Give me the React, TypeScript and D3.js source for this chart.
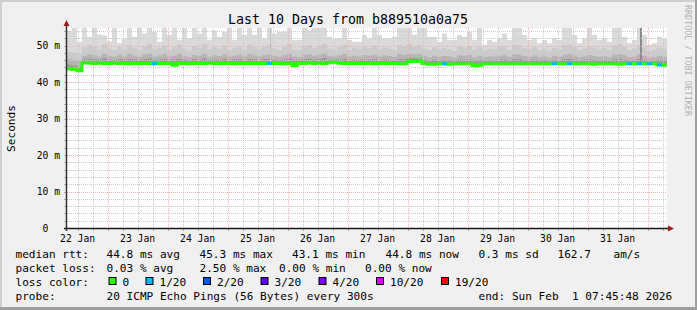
import React from 'react';
import * as d3 from 'd3';

const W = 697;
const H = 310;
const START = Date.UTC(2026, 0, 22, 7, 45, 48);
const END = Date.UTC(2026, 1, 1, 7, 45, 48);
const BUCKET_HOURS = 2;
const Y_MAX = 54.8;

// median RTT per 2h bucket (ms)
const medianRtt = [
  43.6, 43.4, 43.1, 45.2, 45.2, 45.1, 45.2, 45.1, 45.1, 45.2,
  45.1, 45.1, 45.0, 45.1, 45.1, 45.1, 45.1, 45.0, 45.1, 45.1,
  45.1, 44.6, 45.1, 45.1, 45.0, 45.1, 45.1, 45.1, 45.2, 45.1,
  45.1, 45.1, 45.1, 45.0, 45.1, 45.1, 45.1, 45.1, 45.1, 45.1,
  45.1, 45.1, 45.1, 45.0, 45.1, 44.5, 45.1, 45.1, 45.3, 45.1,
  45.2, 45.1, 45.3, 45.4, 45.2, 45.1, 45.1, 45.1, 45.1, 45.1,
  45.1, 45.0, 45.1, 45.1, 45.1, 45.1, 45.0, 45.0, 45.6, 45.7,
  45.6, 45.1, 44.9, 44.9, 45.0, 45.0, 44.9, 45.0, 45.0, 45.0,
  45.0, 44.5, 44.6, 45.0, 45.0, 45.0, 45.0, 45.0, 45.0, 45.0,
  45.0, 45.0, 45.0, 45.0, 45.0, 45.0, 45.0, 45.0, 45.0, 45.0,
  45.0, 45.0, 45.0, 45.0, 45.0, 44.9, 45.0, 45.0, 45.0, 45.0,
  44.9, 45.0, 45.0, 45.0, 45.0, 45.0, 45.0, 45.0, 44.7, 44.6,
];

// highest ping per bucket (outer smoke)
const smokeTop = [
  54.0, 55, 51.0, 55, 52.4, 55, 53.0, 52.8, 51.2, 55,
  50.6, 52.0, 55, 52.4, 55, 53.3, 55, 53.8, 51.0, 55,
  52.9, 55, 51.5, 55, 52.0, 55, 53.3, 55, 51.5, 54.2,
  52.4, 53.8, 55, 51.5, 55, 52.9, 55, 52.9, 55, 52.0,
  55, 53.3, 53.8, 53.8, 55, 51.5, 51.5, 55, 54.2, 55,
  55, 55, 52.4, 52.0, 52.0, 55, 51.5, 51.0, 51.0, 52.9,
  52.0, 55, 52.9, 52.0, 52.0, 52.4, 55, 55, 55, 52.9,
  55, 55, 52.4, 52.4, 51.0, 53.3, 51.5, 51.5, 52.9, 52.4,
  53.8, 51.5, 55, 50.2, 51.5, 51.0, 52.0, 53.3, 51.5, 55,
  55, 52.9, 51.5, 52.0, 50.6, 51.5, 50.6, 52.0, 51.5, 55,
  55, 52.9, 50.6, 52.0, 55, 52.9, 51.5, 52.0, 51.0, 55,
  55, 52.4, 50.6, 51.5, 55, 52.9, 50.2, 50.6, 52.4, 52.0,
];

const smokeMid = [
  48.2, 48.0, 47.8, 49.5, 50.2, 49.8, 49.0, 50.4, 49.2, 48.8,
  49.6, 48.9, 50.3, 49.4, 48.7, 49.9, 50.5, 48.9, 49.3, 50.0,
  48.8, 49.5, 50.2, 49.1, 48.6, 49.8, 49.3, 50.4, 48.9, 49.6,
  49.2, 50.1, 48.7, 49.4, 49.9, 48.8, 50.3, 49.5, 49.0, 49.7,
  50.2, 49.1, 48.8, 49.6, 50.4, 49.0, 48.7, 49.8, 50.1, 49.3,
  49.9, 50.5, 49.2, 48.9, 49.6, 50.3, 48.8, 49.4, 49.0, 49.7,
  49.3, 50.0, 48.9, 49.5, 49.2, 48.7, 50.2, 49.8, 50.4, 49.6,
  50.1, 49.2, 48.8, 49.5, 48.9, 49.3, 49.0, 48.6, 49.7, 49.4,
  49.8, 48.9, 49.5, 48.7, 49.2, 49.0, 49.6, 49.9, 48.8, 50.2,
  50.0, 49.3, 48.9, 49.5, 48.7, 49.1, 48.6, 49.4, 49.0, 50.1,
  50.3, 49.5, 48.8, 49.2, 49.9, 49.4, 48.9, 49.3, 48.8, 50.0,
  50.4, 49.6, 48.7, 49.1, 50.2, 49.5, 48.6, 48.9, 49.4, 49.1,
];

const smokeDark = [
  46.3, 46.0, 45.8, 47.2, 47.6, 47.3, 47.0, 47.8, 47.1, 46.9,
  47.4, 47.0, 47.7, 47.2, 46.9, 47.5, 47.9, 47.0, 47.3, 47.6,
  47.0, 47.2, 47.7, 47.1, 46.8, 47.4, 47.2, 47.8, 46.9, 47.3,
  47.1, 47.6, 46.9, 47.2, 47.5, 47.0, 47.7, 47.3, 47.0, 47.4,
  47.6, 47.1, 46.9, 47.3, 47.8, 47.0, 46.8, 47.5, 47.6, 47.2,
  47.5, 47.9, 47.1, 47.0, 47.3, 47.7, 46.9, 47.2, 47.0, 47.4,
  47.2, 47.5, 47.0, 47.3, 47.1, 46.9, 47.6, 47.4, 47.8, 47.5,
  47.7, 47.1, 46.8, 47.2, 46.9, 47.1, 47.0, 46.7, 47.3, 47.2,
  47.4, 46.8, 47.1, 46.8, 47.0, 46.9, 47.2, 47.4, 46.9, 47.6,
  47.5, 47.1, 46.9, 47.2, 46.8, 47.0, 46.7, 47.1, 46.9, 47.5,
  47.6, 47.2, 46.8, 47.0, 47.4, 47.1, 46.9, 47.1, 46.8, 47.5,
  47.7, 47.3, 46.8, 47.0, 47.6, 47.2, 46.7, 46.8, 47.1, 46.9,
];

const smokeCore = [
  44.8, 44.6, 44.4, 46.2, 46.4, 46.3, 46.1, 46.5, 46.2, 46.0,
  46.3, 46.1, 46.4, 46.2, 46.0, 46.3, 46.5, 46.1, 46.2, 46.4,
  46.1, 46.2, 46.4, 46.1, 45.9, 46.3, 46.2, 46.5, 46.0, 46.2,
  46.1, 46.4, 46.0, 46.2, 46.3, 46.0, 46.4, 46.2, 46.0, 46.3,
  46.4, 46.1, 46.0, 46.2, 46.5, 46.0, 45.9, 46.3, 46.4, 46.2,
  46.3, 46.6, 46.1, 46.2, 46.2, 46.4, 46.0, 46.1, 46.0, 46.2,
  46.1, 46.3, 46.0, 46.2, 46.1, 45.9, 46.3, 46.3, 46.6, 46.5,
  46.5, 46.1, 45.9, 46.1, 45.9, 46.1, 46.0, 45.8, 46.2, 46.1,
  46.2, 45.8, 46.0, 45.9, 46.0, 45.9, 46.1, 46.2, 45.9, 46.3,
  46.3, 46.0, 45.9, 46.1, 45.8, 46.0, 45.8, 46.0, 45.9, 46.3,
  46.4, 46.1, 45.8, 46.0, 46.2, 46.0, 45.9, 46.0, 45.8, 46.2,
  46.4, 46.1, 45.8, 45.9, 46.3, 46.1, 45.7, 45.8, 46.0, 45.8,
];

// lost pings (of 20) per bucket
const lossCount = [
  0, 0, 0, 0, 0, 0, 0, 0, 0, 0,
  0, 0, 0, 0, 0, 0, 0, 1, 0, 0,
  0, 0, 0, 0, 0, 0, 0, 0, 0, 0,
  0, 0, 0, 0, 0, 0, 0, 0, 0, 0,
  1, 0, 0, 0, 0, 0, 0, 0, 0, 0,
  0, 0, 0, 0, 0, 0, 0, 0, 0, 0,
  0, 0, 0, 0, 0, 0, 0, 0, 0, 0,
  0, 0, 0, 0, 0, 1, 0, 0, 0, 0,
  0, 0, 0, 0, 0, 0, 0, 0, 0, 0,
  0, 0, 0, 0, 0, 0, 0, 1, 0, 0,
  1, 0, 0, 0, 0, 0, 0, 0, 0, 0,
  0, 0, 1, 0, 1, 0, 1, 0, 1, 0,
];

// narrow outlier columns
const spikeTimes = [Date.UTC(2026, 0, 25, 17, 0), Date.UTC(2026, 0, 31, 21, 0)];
const spikeTops = [54.8, 54.8];
const spikeShades = ['#c4c4c4', '#8c8c8c'];
const spikeWidths = [1, 2];

const yTickValues = [0, 10, 20, 30, 40, 50];
const yTickLabels = ['0  ', '10 m', '20 m', '30 m', '40 m', '50 m'];

const lossLegendLabels = ['0', '1/20', '2/20', '3/20', '4/20', '10/20', '19/20'];
const lossLegendColors = ['#26ff00', '#00b8ff', '#0059ff', '#5e00ff', '#7e00ff', '#dd00ff', '#ff0000'];

const legendRow1 = ['median rtt:', '44.8 ms avg', '45.3 ms max', '43.1 ms min', '44.8 ms now', '0.3 ms sd', '162.7', 'am/s'];
const legendRow2 = ['packet loss:', '0.03 % avg', '2.50 % max', '0.00 % min', '0.00 % now'];
const legendRow4 = ['probe:', '20 ICMP Echo Pings (56 Bytes) every 300s', 'end: Sun Feb  1 07:45:48 2026'];

const TITLE = 'Last 10 Days from b889510a0a75';
const Y_TITLE = 'Seconds';
const WATERMARK = 'RRDTOOL / TOBI OETIKER';

const PL = 67, PR = 667, PT = 28, PB = 228;
const MONO = '"DejaVu Sans Mono", monospace';

export default function App() {
  const x = d3.scaleUtc().domain([new Date(START), new Date(END)]).range([PL, PR]);
  const y = d3.scaleLinear().domain([0, Y_MAX]).range([PB, PT]);

  const pts = medianRtt.map((_, i) => ({ t: new Date(START + i * BUCKET_HOURS * 3600e3), i }));
  const ptsExt = [...pts, { t: new Date(END), i: pts.length - 1 }];

  const smokeArea = (vals: number[]) =>
    d3.area<any>()
      .x(d => x(d.t))
      .y0(d => y(medianRtt[d.i]))
      .y1(d => y(Math.min(vals[d.i], Y_MAX)))
      .curve(d3.curveStepAfter)(ptsExt) as string;

  const medLine = d3.line<any>().x(d => x(d.t)).y(d => y(medianRtt[d.i])).curve(d3.curveStepAfter)(ptsExt) as string;

  const sixHours = d3.utcHour.every(6)!.range(new Date(START), new Date(END));
  const minorX = sixHours.filter(d => d.getUTCHours() !== 0);
  const majorX = d3.utcDay.range(new Date(START), new Date(END));
  const noon = d3.utcHour.range(new Date(START), new Date(END)).filter(d => d.getUTCHours() === 12);
  const fmt = d3.utcFormat('%d %b');

  const minorY = d3.range(2, Y_MAX, 2).filter(v => v % 10 !== 0);
  const majorY = d3.range(10, Y_MAX, 10);

  const px = (v: number) => Math.round(v) + 0.5;

  const row1X = [15.5, 106.5, 199.5, 292, 385.5, 478.5, 557.5, 613.5];
  const row2X = [15.5, 106.5, 199.5, 279, 365];
  const row4X = [15.5, 106.5, 478.5];
  const boxX = [108.5, 145.5, 203, 260.5, 318.5, 376, 441];

  const legendStyle: React.CSSProperties = { whiteSpace: 'pre' };

  return (
    <svg width={W} height={H} style={{ position: 'fixed', left: 0, top: 0, display: 'block' }}
      fontFamily={MONO}>
      <defs>
        <clipPath id="plotClip">
          <rect x={PL} y={PT} width={PR - PL} height={PB - PT} />
        </clipPath>
      </defs>
      <rect x={0} y={0} width={W} height={H} fill="#f0f0f0" />
      <rect x={0} y={0} width={W} height={2} fill="#cfcfcf" />
      <rect x={0} y={0} width={2} height={H} fill="#cfcfcf" />
      <rect x={0} y={H - 3} width={W} height={3} fill="#9e9e9e" />
      <rect x={W - 2} y={0} width={2} height={H} fill="#9e9e9e" />

      <rect x={PL} y={PT} width={PR - PL} height={PB - PT} fill="#ffffff" />

      <g clipPath="url(#plotClip)">
        <path d={smokeArea(smokeTop)} fill="#dadada" />
        <path d={smokeArea(smokeMid)} fill="#cbcbcb" />
        <path d={smokeArea(smokeDark)} fill="#b5b5b5" />
        <path d={smokeArea(smokeCore)} fill="#9b9b9b" />
        {spikeTimes.map((t, i) => (
          <rect key={i} x={Math.round(x(new Date(t)))} width={spikeWidths[i]}
            y={y(spikeTops[i])} height={y(45) - y(spikeTops[i])} fill={spikeShades[i]} />
        ))}
      </g>

      <g fill="none" strokeWidth={1} strokeDasharray="1,1">
        {minorY.map(v => (
          <line key={'hy' + v} x1={PL} x2={PR} y1={px(y(v))} y2={px(y(v))} stroke="#cacaca" />
        ))}
        {minorX.map(d => (
          <line key={'hx' + +d} y1={PT} y2={PB} x1={px(x(d))} x2={px(x(d))} stroke="#cacaca" />
        ))}
        {majorY.map(v => (
          <line key={'my' + v} x1={PL} x2={PR} y1={px(y(v))} y2={px(y(v))} stroke="#f0b0b0" />
        ))}
        {majorX.map(d => (
          <line key={'mx' + +d} y1={PT} y2={PB} x1={px(x(d))} x2={px(x(d))} stroke="#f0b0b0" />
        ))}
      </g>

      <g clipPath="url(#plotClip)">
        <path d={medLine} fill="none" stroke="#26ff00" strokeWidth={3} />
        {pts.filter(p => lossCount[p.i] > 0).map(p => (
          <line key={'l' + p.i} x1={x(p.t)} x2={x(new Date(+p.t + BUCKET_HOURS * 3600e3))}
            y1={y(medianRtt[p.i])} y2={y(medianRtt[p.i])}
            stroke={lossLegendColors[lossCount[p.i]]} strokeWidth={3} />
        ))}
      </g>

      {/* ticks */}
      <g stroke="#b0b0b0" strokeWidth={1}>
        {minorY.concat(majorY).map(v => (
          <line key={'ty' + v} x1={PL - 3} x2={PL} y1={px(y(v))} y2={px(y(v))} />
        ))}
        {sixHours.map(d => (
          <line key={'tx' + +d} x1={px(x(d))} x2={px(x(d))} y1={PB} y2={PB + 3} />
        ))}
      </g>

      {/* axes */}
      <line x1={PL - 3} x2={PR + 2} y1={PB + 0.5} y2={PB + 0.5} stroke="#1a1a1a" strokeWidth={1.5} />
      <line x1={PL - 0.5} x2={PL - 0.5} y1={PB + 3} y2={PT - 2} stroke="#333" strokeWidth={1.5} />
      <path d={`M${PR + 7},${PB + 0.5} L${PR + 1},${PB - 2.5} L${PR + 1},${PB + 3.5} Z`} fill="#9e1c1c" />
      <path d={`M${PL - 0.5},${PT - 8} L${PL - 3.5},${PT - 2} L${PL + 2.5},${PT - 2} Z`} fill="#9e1c1c" />

      {/* title */}
      <text x={348} y={24} textAnchor="middle" fontSize={13.3} fill="#000">{TITLE}</text>

      {/* y labels */}
      {yTickValues.map((v, i) => (
        <text key={'yl' + v} x={60} y={y(v) + 3.5} textAnchor="end" fontSize={9.7}
          fill="#000" style={legendStyle} xmlSpace="preserve">{yTickLabels[i]}</text>
      ))}
      <text transform={`translate(15,128.5) rotate(-90)`} textAnchor="middle" fontSize={11.1} fill="#000">{Y_TITLE}</text>

      {/* x labels */}
      {noon.map(d => (
        <text key={'xl' + +d} x={x(d)} y={241.5} textAnchor="middle" fontSize={9.7} fill="#000">{fmt(d)}</text>
      ))}

      {/* watermark */}
      <text transform="translate(685,5) rotate(90)" fontSize={8.4} fill="#b0b0b0">{WATERMARK}</text>

      {/* legend */}
      <g fontSize={11.1} fill="#000">
        {legendRow1.map((s, i) => (
          <text key={'r1' + i} x={row1X[i]} y={258} style={legendStyle} xmlSpace="preserve">{s}</text>
        ))}
        {legendRow2.map((s, i) => (
          <text key={'r2' + i} x={row2X[i]} y={272} style={legendStyle} xmlSpace="preserve">{s}</text>
        ))}
        <text x={15.5} y={286}>loss color:</text>
        {lossLegendLabels.map((s, i) => (
          <g key={'lc' + i}>
            <rect x={boxX[i] + 0.5} y={277.5} width={7} height={7} fill={lossLegendColors[i]} stroke="#000" strokeWidth={1} />
            <text x={boxX[i] + 14} y={286}>{s}</text>
          </g>
        ))}
        {legendRow4.map((s, i) => (
          <text key={'r4' + i} x={row4X[i]} y={300} style={legendStyle} xmlSpace="preserve">{s}</text>
        ))}
      </g>
    </svg>
  );
}
